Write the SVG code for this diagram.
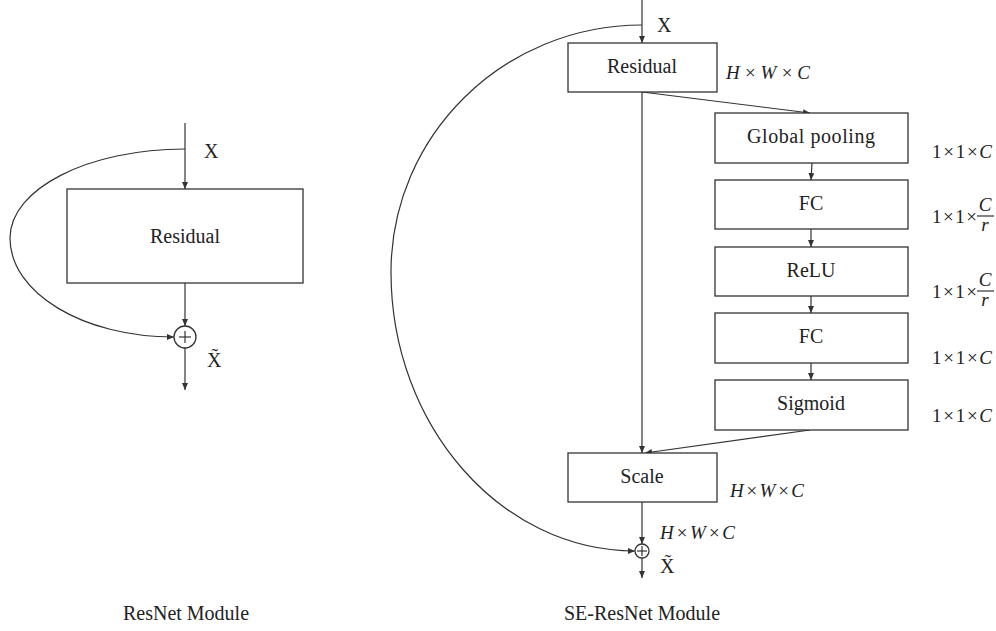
<svg xmlns="http://www.w3.org/2000/svg" width="996" height="631" viewBox="0 0 996 631">
<style>
.box{fill:#fff;stroke:#333;stroke-width:1.3}
.ln{fill:none;stroke:#333;stroke-width:1.2}
.arr{fill:none;stroke:#333;stroke-width:1.2;marker-end:url(#ah)}
.t{font-family:"Liberation Serif",serif;font-size:20px;fill:#222}
.lbl{font-family:"Liberation Serif",serif;font-size:20px;fill:#222;text-anchor:middle}
.it{font-family:"Liberation Serif",serif;font-size:19px;fill:#222;font-style:italic}
.dim{font-family:"Liberation Serif",serif;font-size:19px;fill:#222}
.i{font-style:italic}
</style>
<defs>
<marker id="ah" markerUnits="userSpaceOnUse" markerWidth="7" markerHeight="7" refX="7" refY="3" orient="auto">
<path d="M0,0 L7,3 L0,6 z" fill="#333"/>
</marker>
</defs>

<g id="connectors">
<line class="arr" x1="185" y1="123" x2="185" y2="189"/>
<line class="arr" x1="185" y1="283" x2="185" y2="326"/>
<line class="arr" x1="185" y1="348" x2="185" y2="390"/>
<path class="arr" d="M185,149 C88,149 10,189 10,238 C10,293 83,337 174,337"/>
<line class="arr" x1="642" y1="0" x2="642" y2="43"/>
<line class="arr" x1="642" y1="92" x2="810" y2="113"/>
<line class="arr" x1="642" y1="92" x2="642" y2="453"/>
<line class="arr" x1="812" y1="163" x2="811" y2="180"/>
<line class="arr" x1="811" y1="229" x2="811" y2="247"/>
<line class="arr" x1="811" y1="296" x2="811" y2="313"/>
<line class="arr" x1="811" y1="363" x2="811" y2="380"/>
<line class="arr" x1="810" y1="430" x2="645" y2="453"/>
<line class="arr" x1="642" y1="502" x2="642" y2="544"/>
<line class="arr" x1="642" y1="558" x2="642" y2="578"/>
<path class="arr" d="M642,25 C503,25 391,136 391,272 C391,426 501,551 635,551"/>
</g>

<g id="resnet-residual">
<rect class="box" x="67" y="189" width="236" height="94"/>
<text class="lbl" x="185" y="243">Residual</text>
</g>
<g id="resnet-add">
<circle class="box" cx="185" cy="337" r="11"/>
<line class="ln" x1="179" y1="337" x2="191" y2="337"/>
<line class="ln" x1="185" y1="331" x2="185" y2="343"/>
</g>
<g id="resnet-labels">
<text class="t" x="204" y="158">X</text>
<text class="t" x="207" y="367">X̃</text>
<text class="lbl" x="186" y="620" font-size="18">ResNet Module</text>
</g>

<g id="se-residual">
<rect class="box" x="568" y="43" width="149" height="49"/>
<text class="lbl" x="642" y="73">Residual</text>
</g>
<g id="global-pooling">
<rect class="box" x="715" y="113" width="193" height="50"/>
<text class="lbl" x="811" y="143" textLength="128">Global pooling</text>
</g>
<g id="fc1">
<rect class="box" x="715" y="180" width="193" height="49"/>
<text class="lbl" x="811" y="210">FC</text>
</g>
<g id="relu">
<rect class="box" x="715" y="247" width="193" height="49"/>
<text class="lbl" x="811" y="277">ReLU</text>
</g>
<g id="fc2">
<rect class="box" x="715" y="313" width="193" height="50"/>
<text class="lbl" x="811" y="343">FC</text>
</g>
<g id="sigmoid">
<rect class="box" x="715" y="380" width="193" height="50"/>
<text class="lbl" x="811" y="410">Sigmoid</text>
</g>
<g id="scale">
<rect class="box" x="568" y="453" width="149" height="49"/>
<text class="lbl" x="642" y="483">Scale</text>
</g>
<g id="se-add">
<circle class="box" cx="642" cy="551" r="7"/>
<line class="ln" x1="637" y1="551" x2="647" y2="551"/>
<line class="ln" x1="642" y1="546" x2="642" y2="556"/>
</g>

<g id="se-labels">
<text class="t" x="657" y="32">X</text>
<text class="it" x="726" y="79" textLength="84">H×W×C</text>
<text class="dim" x="932" y="158" textLength="60">1×1×<tspan class="i">C</tspan></text>
<text class="dim" x="932" y="223" textLength="45">1×1×</text>
<text class="it" x="985" y="211" text-anchor="middle" font-size="18">C</text>
<line class="ln" x1="977" y1="216" x2="994" y2="216"/>
<text class="it" x="985" y="231" text-anchor="middle" font-size="18">r</text>
<text class="dim" x="932" y="298" textLength="45">1×1×</text>
<text class="it" x="985" y="286" text-anchor="middle" font-size="18">C</text>
<line class="ln" x1="977" y1="291" x2="994" y2="291"/>
<text class="it" x="985" y="306" text-anchor="middle" font-size="18">r</text>
<text class="dim" x="932" y="364" textLength="60">1×1×<tspan class="i">C</tspan></text>
<text class="dim" x="932" y="422" textLength="60">1×1×<tspan class="i">C</tspan></text>
<text class="it" x="730" y="497" textLength="74">H×W×C</text>
<text class="it" x="660" y="539" textLength="75">H×W×C</text>
<text class="t" x="660" y="573">X̃</text>
<text class="lbl" x="642" y="620" font-size="18">SE-ResNet Module</text>
</g>
</svg>
